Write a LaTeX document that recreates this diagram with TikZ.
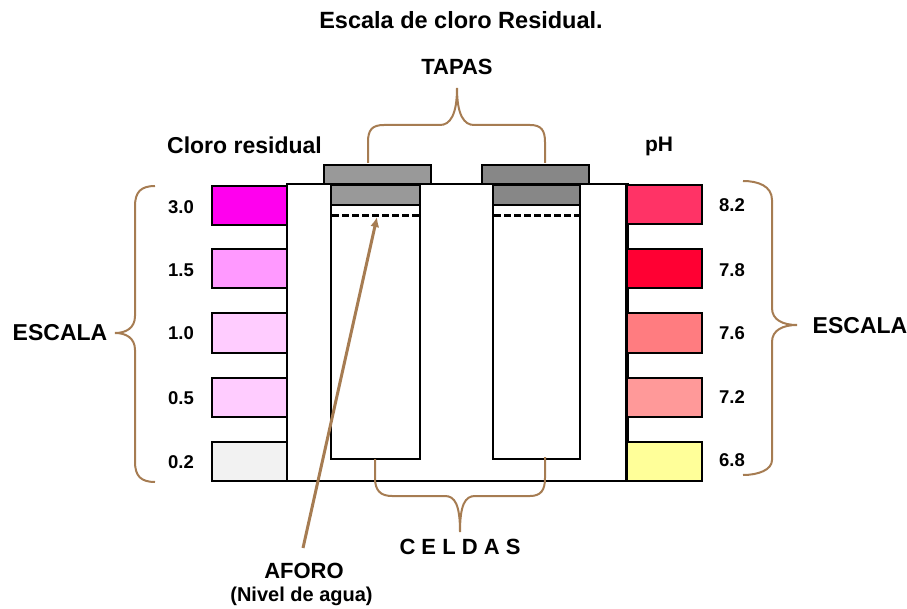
\documentclass[tikz,border=0pt]{standalone}
\usepackage{fontspec}
\setmainfont{Liberation Sans}
\usetikzlibrary{arrows.meta}
\definecolor{brn}{HTML}{A67C52}
\definecolor{s30}{HTML}{FF00EE}
\definecolor{s15}{HTML}{FF99FF}
\definecolor{s10}{HTML}{FFCCFF}
\definecolor{s05}{HTML}{FFCCFF}
\definecolor{s02}{HTML}{F2F2F2}
\definecolor{p82}{HTML}{FF3366}
\definecolor{p78}{HTML}{FF0033}
\definecolor{p76}{HTML}{FF7C80}
\definecolor{p72}{HTML}{FF9999}
\definecolor{p68}{HTML}{FFFF99}
\begin{document}
\begin{tikzpicture}[x=1pt,y=-1pt,
  num/.style={font=\bfseries\fontsize{18.5}{20}\selectfont, inner sep=0pt},
  big/.style={font=\bfseries\fontsize{22}{24}\selectfont, inner sep=0pt},
  sw/.style={draw=black, line width=2pt, minimum width=75pt, minimum height=39pt, inner sep=0pt},
  cellbox/.style={draw=black, line width=2pt, fill=white, minimum height=274pt, inner sep=0pt},
  capbox/.style={draw=black, line width=2.5pt, minimum width=107pt, minimum height=19pt, inner sep=0pt},
  brace/.style={draw=brn, line width=2pt},
]
\useasboundingbox (0,0) rectangle (907,609);

% title
\node[font=\bfseries\fontsize{23.5}{25}\selectfont, inner sep=0pt] (title) at (461,20) {Escala de cloro Residual.};

% main box
\node[draw=black, line width=2pt, minimum width=339pt, minimum height=297pt, inner sep=0pt] (box) at (456.5,332.5) {};
\draw[line width=3.5pt] (box.north east) -- (box.south east);

% cells
\node[cellbox, minimum width=89pt] (lcell) at (375.5,322) {};
\node[cellbox, minimum width=87pt] (rcell) at (536.5,322) {};
\node[draw=black, line width=2pt, fill=black!40, minimum width=89pt, minimum height=20pt, inner sep=0pt] (lins) at (375.5,195) {};
\node[draw=black, line width=2pt, fill=black!47, minimum width=87pt, minimum height=20pt, inner sep=0pt] (rins) at (536.5,195) {};
\draw[line width=3pt, dash pattern=on 7pt off 3pt] (332,216) -- (419,216);
\draw[line width=3pt, dash pattern=on 7pt off 3pt] (494,216) -- (579,216);

% caps
\node[capbox, fill=black!40] (lcap) at (377.5,174.5) {};
\node[capbox, fill=black!47] (rcap) at (535.5,174.5) {};

% left swatches
\node[sw, fill=s30] (c30) at (249.5,205.5) {};
\node[sw, fill=s15] (c15) at (249.5,269) {};
\node[sw, fill=s10] (c10) at (249.5,333) {};
\node[sw, fill=s05] (c05) at (249.5,397) {};
\node[sw, fill=s02] (c02) at (249.5,461.5) {};
% right swatches
\node[sw, fill=p82] (p82n) at (664,205) {};
\node[sw, fill=p78] (p78n) at (664,269) {};
\node[sw, fill=p76] (p76n) at (664,333) {};
\node[sw, fill=p72] (p72n) at (664,397) {};
\node[sw, fill=p68] (p68n) at (664,461.5) {};

% numbers
\node[num] (l30) at (181,207) {3.0};
\node[num] (l15) at (181,270) {1.5};
\node[num] (l10) at (181,333) {1.0};
\node[num] (l05) at (181,398) {0.5};
\node[num] (l02) at (181,462) {0.2};
\node[num] (r82) at (732,205) {8.2};
\node[num] (r78) at (732,270) {7.8};
\node[num] (r76) at (732,333) {7.6};
\node[num] (r72) at (732,397) {7.2};
\node[num] (r68) at (732,460) {6.8};

% headings
\node[font=\bfseries\fontsize{23}{25}\selectfont, inner sep=0pt] (cloro) at (244.5,145) {Cloro residual};
\node[font=\bfseries\fontsize{21}{23}\selectfont, inner sep=0pt] (ph) at (659,146) {pH};
\node[big] (tapas) at (457,67) {TAPAS};
\node[big] (celdas) at (460,547) {C E L D A S};
\node[font=\bfseries\fontsize{23}{25}\selectfont, inner sep=0pt] (escl) at (60,333) {ESCALA};
\node[font=\bfseries\fontsize{23}{25}\selectfont, inner sep=0pt] (escr) at (860,326) {ESCALA};
\node[big] (aforo) at (304,571) {AFORO};
\node[font=\bfseries\fontsize{20}{22}\selectfont, inner sep=0pt, anchor=base] (nivel) at (301.5,601) {(Nivel de agua)};

% braces
\draw[brace] (155,186) .. controls (141,186) and (135,192) .. (135,206) -- (135,316)
  .. controls (135,328) and (126,333) .. (115,333)
  .. controls (126,333) and (135,338) .. (135,350) -- (135,462)
  .. controls (135,476) and (141,482) .. (155,482);
\draw[brace] (743,181) .. controls (758,181) and (772,186) .. (772,200) -- (772,308)
  .. controls (772,320) and (783,325) .. (797,325)
  .. controls (783,325) and (772,330) .. (772,342) -- (772,460)
  .. controls (772,470) and (758,475) .. (743,475);
\draw[brace] (368,163) -- (368,142) .. controls (368,130) and (372,125) .. (384,125) -- (440,125)
  .. controls (450,125) and (457,115) .. (457,88)
  .. controls (457,115) and (464,125) .. (474,125) -- (530,125)
  .. controls (541,125) and (545,130) .. (545,142) -- (545,163);
\draw[brace] (375,459) -- (375,478) .. controls (375,490) and (380,496) .. (392,496) -- (445,496)
  .. controls (455,496) and (460,505) .. (460,532)
  .. controls (460,505) and (465,496) .. (475,496) -- (530,496)
  .. controls (541,496) and (545,490) .. (545,478) -- (545,457);

% aforo arrow
\coordinate (aft) at (303,548);
\coordinate (afh) at (377,217);
\draw[brn, line width=3pt, -{Latex[length=10pt,width=9pt]}] (aft) -- (afh);
\end{tikzpicture}
\end{document}
